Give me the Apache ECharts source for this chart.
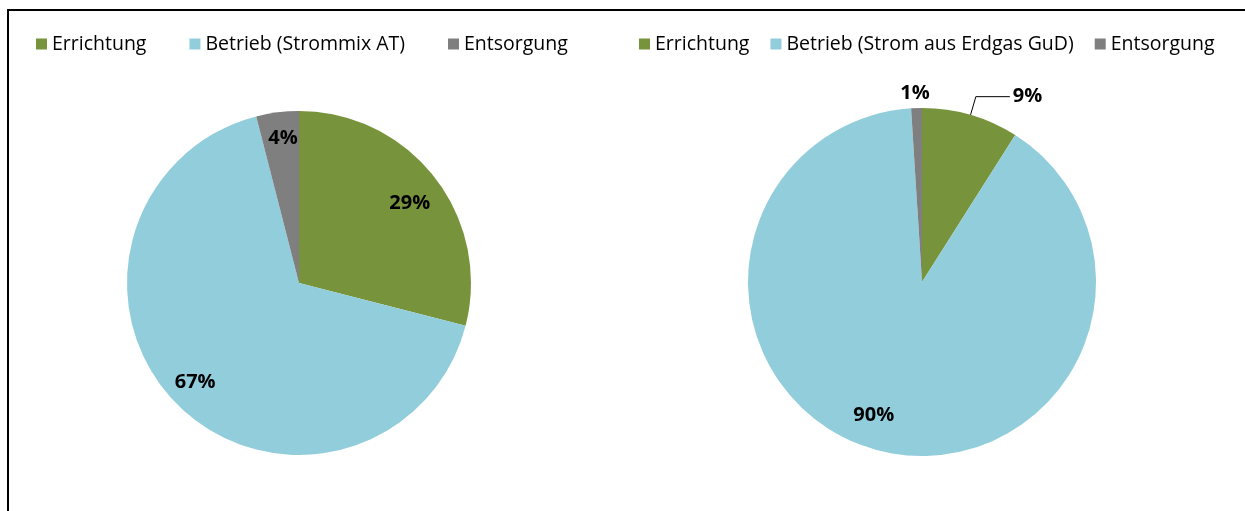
<!DOCTYPE html>
<html>
<head>
<meta charset="utf-8">
<script src="https://cdn.jsdelivr.net/npm/echarts@6/dist/echarts.min.js"></script>
<style>
  html, body { margin: 0; padding: 0; background: #ffffff; }
  #chart { width: 1245px; height: 511px; }
</style>
</head>
<body>
<div id="chart"></div>
<script>
// Share of life-cycle phases (percent)
const categoriesLeft = ['Errichtung', 'Betrieb (Strommix AT)', 'Entsorgung'];
const valuesLeft = [29, 67, 4];
const categoriesRight = ['Errichtung', 'Betrieb (Strom aus Erdgas GuD)', 'Entsorgung'];
const valuesRight = [9, 90, 1];
const phaseColors = ['#77933C', '#92CDDC', '#7F7F7F'];

const FONT = 'Open Sans';

function toData(names, values) {
  return names.map((n, i) => ({ name: n, value: values[i], itemStyle: { color: phaseColors[i] } }));
}

const labelFont = { fontFamily: FONT, fontWeight: 'bold', fontSize: 20, color: '#000' };

// Pie slices (no labels); inside labels come from transparent ring overlays
const leftPie = {
  type: 'pie', center: [299, 283], radius: [0, 172], startAngle: 90, clockwise: true,
  avoidLabelOverlap: false, silent: true,
  itemStyle: { borderWidth: 0 },
  label: { show: false }, labelLine: { show: false },
  data: toData(categoriesLeft, valuesLeft)
};

const rightData = toData(categoriesRight, valuesRight);
rightData[0].label = { show: true, position: 'outside', formatter: '{c}%', distanceToLabelLine: 3,
  padding: [0, 0, 14, 0], ...labelFont };
rightData[0].labelLine = { show: true, length: 19, length2: 34, lineStyle: { color: '#000', width: 1 } };
rightData[2].label = { show: true, position: 'outside', formatter: '{c}%', ...labelFont };
rightData[2].labelLine = { show: false, length: 15, length2: 0 };

const rightPie = {
  type: 'pie', center: [922, 282], radius: [0, 174], startAngle: 90, clockwise: true,
  avoidLabelOverlap: false, silent: true,
  itemStyle: { borderWidth: 0 },
  label: { show: false }, labelLine: { show: false },
  labelLayout: function (p) {
    if (p.dataIndex === 2) return { align: 'center', dx: 4 };
    return {};
  },
  data: rightData
};

// Transparent ring whose 'inside' labels sit near the outer edge of each slice
function ring(center, r0, r, names, values, showIdx, nudge) {
  return {
    type: 'pie', center: center, radius: [r0, r], startAngle: 90, clockwise: true,
    avoidLabelOverlap: false, silent: true, z: 3,
    itemStyle: { color: 'rgba(0,0,0,0)', borderWidth: 0 },
    label: { show: true, position: 'inside', formatter: '{c}%', ...labelFont },
    labelLine: { show: false },
    labelLayout: function (p) { return nudge[p.dataIndex] || {}; },
    data: names.map((n, i) => ({
      name: n, value: values[i],
      itemStyle: { color: 'rgba(0,0,0,0)' },
      label: { show: showIdx.indexOf(i) >= 0 }
    }))
  };
}

const legendText = { fontFamily: FONT, fontSize: 19.5, color: '#000' };

const chart = echarts.init(document.getElementById('chart'), null, { renderer: 'canvas' });
chart.setOption({
  backgroundColor: '#ffffff',
  animation: false,
  legend: [
    {
      left: 36, top: 34, padding: 0, itemWidth: 11, itemHeight: 11, itemGap: 43,
      icon: 'rect', selectedMode: false, textStyle: legendText,
      data: categoriesLeft
    },
    {
      left: 639, top: 34, padding: 0, itemWidth: 11, itemHeight: 11, itemGap: 21,
      icon: 'rect', selectedMode: false, textStyle: legendText,
      data: categoriesRight
    }
  ],
  graphic: [
    { type: 'line', shape: { x1: 7, y1: 10, x2: 1245, y2: 10 }, style: { stroke: '#000', lineWidth: 2 } },
    { type: 'line', shape: { x1: 8, y1: 9, x2: 8, y2: 511 }, style: { stroke: '#000', lineWidth: 2 } }
  ],
  series: [
    leftPie,
    rightPie,
    ring([299, 283], 110, 172, categoriesLeft, valuesLeft, [0, 1, 2],
      { 0: { dx: -3, dy: 9 }, 1: { dx: -2, dy: -3 }, 2: { dx: 2, dy: -2 } }),
    ring([922, 282], 111, 174, categoriesRight, valuesRight, [1],
      { 1: { dx: -12, dy: -8 } })
  ]
});
</script>
</body>
</html>
